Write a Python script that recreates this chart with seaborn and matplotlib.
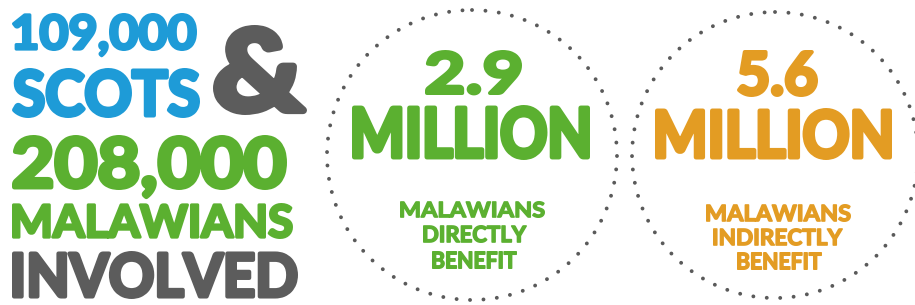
import matplotlib
matplotlib.use("Agg")
import matplotlib.pyplot as plt
import seaborn as sns
import matplotlib.patheffects as pe
from matplotlib.patches import Circle
from matplotlib.textpath import TextPath
from matplotlib.font_manager import FontProperties
from matplotlib.transforms import Affine2D

# --- content ---
left_lines = ["109,000", "SCOTS", "&", "208,000", "MALAWIANS", "INVOLVED"]
left_colors = ["blue", "blue", "grey", "green", "green", "grey"]

circle_values = ["2.9", "5.6"]
circle_unit = "MILLION"
circle_captions = [["MALAWIANS", "DIRECTLY", "BENEFIT"],
                   ["MALAWIANS", "INDIRECTLY", "BENEFIT"]]
circle_colors = ["green", "orange"]

palette = dict(zip(["blue", "green", "grey", "orange"],
                   sns.color_palette(["#1e9bd7", "#5bb030", "#5c5c5c", "#e39c23"])))
dot_color = "#5a5a5a"

# --- layout (pixel boxes: left, top, right, bottom) ---
left_boxes = [(12, 13, 197, 51), (12, 68, 200, 118), (213, 25, 307, 115),
              (12, 135, 287, 190), (12, 203, 293, 239), (12, 251, 298, 299)]
circle_centers = [(472, 155), (775, 155)]
circle_radius = [145, 143]
value_boxes = [(425, 50, 522, 95), (737, 50, 818, 97)]
unit_boxes = [(352, 105, 590, 160), (655, 108, 892, 160)]
caption_boxes = [[(400, 201, 545, 218), (423, 225, 527, 243), (432, 251, 517, 269)],
                 [(706, 204, 851, 222), (713, 228, 843, 246), (737, 252, 822, 270)]]

sns.set_theme(style="white")
plt.rcParams['font.family'] = ['Lato', 'DejaVu Sans']
fp = FontProperties(family='Lato', weight='bold')
BOLDEN = 0.085  # extra stroke, as a share of the cap height


class Squeeze(pe.AbstractPathEffect):
    # horizontal scaling of glyphs around x0 (display coords) plus a fattening stroke
    def __init__(self, sx, x0, stroke_px):
        super().__init__()
        self.sx, self.x0, self.stroke = sx, x0, stroke_px

    def draw_path(self, renderer, gc, tpath, affine, rgbFace=None):
        t = affine + Affine2D().translate(-self.x0, 0).scale(self.sx, 1).translate(self.x0, 0)
        g = renderer.new_gc()
        g.copy_properties(gc)
        g.set_linewidth(self.stroke * 72 / 100)
        g.set_foreground(rgbFace)
        g.set_joinstyle('round')
        renderer.draw_path(g, tpath, t, rgbFace)
        g.restore()


def fit_text(ax, s, box, color):
    left, top, right, bottom = box
    w = BOLDEN * (bottom - top)
    left, top, right, bottom = left + w / 2, top + w / 2, right - w / 2, bottom - w / 2
    body = s.replace(",", "").replace(".", "") or s
    eh = TextPath((0, 0), body, size=100, prop=fp).get_extents()
    ew = TextPath((0, 0), s, size=100, prop=fp).get_extents()
    scale = (bottom - top) / (eh.y1 - eh.y0)
    sx = (right - left) / ((ew.x1 - ew.x0) * scale)
    cx = (left + right) / 2
    icx = (ew.x0 + ew.x1) / 2 * scale
    y = bottom + eh.y0 * scale
    t = ax.text(cx, y, s, color=color, fontproperties=fp,
                fontsize=scale * 100 * 72 / fig.dpi, ha='center', va='baseline')
    W = t.get_window_extent(renderer).width
    # pen origin sits at cx + W/2 - W/2 - icx ... shift so the ink centre lands on cx
    t.set_x(cx + W / 2 - icx)
    t.set_path_effects([Squeeze(sx, ax.transData.transform((cx, 0))[0], w)])


fig = plt.figure(figsize=(9.15, 3.05), dpi=100)
ax = fig.add_axes([0, 0, 1, 1])
ax.set_xlim(0, 915)
ax.set_ylim(305, 0)
ax.axis('off')
renderer = fig.canvas.get_renderer()

for s, c, b in zip(left_lines, left_colors, left_boxes):
    fit_text(ax, s, b, palette[c])

for i in range(2):
    ring = Circle(circle_centers[i], circle_radius[i], fill=False, edgecolor=dot_color,
                  linewidth=2.8, linestyle=(0, (0.01, 3.45)), capstyle='round')
    ax.add_patch(ring)
    col = palette[circle_colors[i]]
    fit_text(ax, circle_values[i], value_boxes[i], col)
    fit_text(ax, circle_unit, unit_boxes[i], col)
    for s, b in zip(circle_captions[i], caption_boxes[i]):
        fit_text(ax, s, b, col)

fig.savefig("out.png", dpi=100)
